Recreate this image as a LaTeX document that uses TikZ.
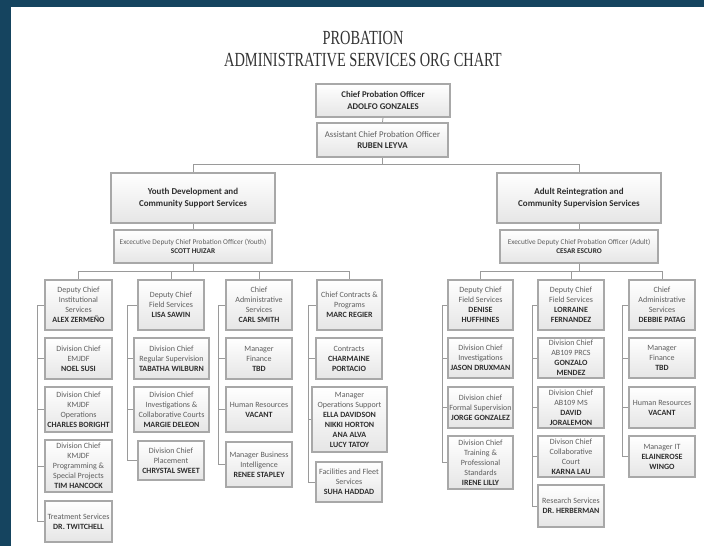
\documentclass[tikz,border=0pt]{standalone}
\usepackage{fontspec}
\setmainfont{Carlito}
\newfontfamily\titlefont[FakeStretch=0.72]{Liberation Serif}
\usetikzlibrary{shadows}
\definecolor{slate}{HTML}{15445F}
\definecolor{edge}{HTML}{A8A8A8}
\definecolor{txt}{HTML}{5E5E5E}
\definecolor{nmc}{HTML}{2E2E2E}
\definecolor{linec}{HTML}{9A9A9A}
\newcommand\pname[1]{\textbf{\color{nmc}#1}}
\newcommand\ob[7]{\node[#1, minimum width={#5-#3}, minimum height={#6-#4}] (#2) at ({(#3+#5)/2},{(#4+#6)/2}) {#7};}
\tikzset{
  basebox/.style={rectangle, inner sep=0.5pt, align=center, top color=white, bottom color=black!10,
    text=txt, font=\fontsize{8}{10}\selectfont},
  headbox/.style={basebox, draw=edge, line width=2.2pt,
    drop shadow={shadow xshift=1pt, shadow yshift=-1pt, opacity=0.25}},
  midbox/.style={basebox, draw=edge, line width=1.6pt, font=\fontsize{8.8}{11.5}\selectfont,
    drop shadow={shadow xshift=1.2pt, shadow yshift=-1.2pt, opacity=0.3}},
  divbox/.style={basebox, draw=edge, line width=1.1pt,
    drop shadow={shadow xshift=1.2pt, shadow yshift=-1.2pt, opacity=0.25}},
  execbox/.style={midbox, font=\fontsize{7.3}{9.6}\selectfont},
  bigbox/.style={headbox, line width=2.6pt, text=nmc, font=\bfseries\fontsize{9}{12}\selectfont},
  conn/.style={draw=linec, line width=0.8pt},
  ttl/.style={text=black!80, font=\titlefont\fontsize{20}{20}\selectfont, inner sep=0pt},
}
\begin{document}
\begin{tikzpicture}[x=1pt,y=-1pt]
\useasboundingbox (0,0) rectangle (704,546);
\fill[slate] (0,0) rectangle (704,546);
\fill[white] (11,7) rectangle (704,546);

% title
\node[ttl] (t1) at (363,38) {PROBATION};
\node[ttl] (t2) at (363,60) {ADMINISTRATIVE SERVICES ORG CHART};

% top
\ob{midbox}{chief}{316}{84}{450}{117}{\pname{Chief Probation Officer}\\\pname{ADOLFO GONZALES}}
\ob{midbox}{asst}{317}{123}{448}{157}{Assistant Chief Probation Officer\\\pname{RUBEN LEYVA}}
\ob{bigbox}{youth}{111}{173}{275}{223}{Youth Development and\\Community Support Services}
\ob{bigbox}{adult}{497}{173}{661}{223}{Adult Reintegration and\\Community Supervision Services}
\ob{execbox}{execY}{114}{230}{272}{263}{Excecutive Deputy Chief Probation Officer (Youth)\\\pname{SCOTT HUIZAR}}
\ob{execbox}{execA}{500}{230}{658}{263}{Executive Deputy Chief Probation Officer (Adult)\\\pname{CESAR ESCURO}}

% youth heads
\ob{headbox}{alex}{45}{280}{112}{330}{Deputy Chief\\Institutional\\Services\\\pname{ALEX ZERMEÑO}}
\ob{headbox}{lisa}{138}{280}{204}{330}{Deputy Chief\\Field Services\\\pname{LISA SAWIN}}
\ob{headbox}{carl}{226}{280}{292}{330}{Chief\\Administrative\\Services\\\pname{CARL SMITH}}
\ob{headbox}{marc}{317}{280}{382}{330}{Chief Contracts \&\\Programs\\\pname{MARC REGIER}}

% youth children
\ob{divbox}{noel}{45}{338}{112}{379}{Division Chief\\EMJDF\\\pname{NOEL SUSI}}
\ob{divbox}{charles}{45}{387}{112}{432}{Division Chief\\KMJDF\\Operations\\\pname{CHARLES BORIGHT}}
\ob{divbox}{tim}{45}{440}{112}{492}{Division Chief\\KMJDF\\Programming \&\\Special Projects\\\pname{TIM HANCOCK}}
\ob{divbox}{twitchell}{45}{501}{112}{542}{Treatment Services\\\pname{DR. TWITCHELL}}

\ob{divbox}{tabatha}{134}{338}{209}{379}{Division Chief\\Regular Supervision\\\pname{TABATHA WILBURN}}
\ob{divbox}{margie}{134}{387}{209}{432}{Division Chief\\Investigations \&\\Collaborative Courts\\\pname{MARGIE DELEON}}
\ob{divbox}{chrystal}{138}{441}{204}{480}{Division Chief\\Placement\\\pname{CHRYSTAL SWEET}}

\ob{divbox}{finY}{226}{338}{292}{379}{Manager\\Finance\\\pname{TBD}}
\ob{divbox}{hrY}{226}{387}{292}{432}{Human Resources\\\pname{VACANT}}
\ob{divbox}{renee}{226}{442}{292}{487}{Manager Business\\Intelligence\\\pname{RENEE STAPLEY}}

\ob{divbox}{contracts}{316}{338}{382}{379}{Contracts\\\pname{CHARMAINE}\\\pname{PORTACIO}}
\ob{divbox}{ops}{312}{387}{387}{452}{Manager\\Operations Support\\\pname{ELLA DAVIDSON}\\\pname{NIKKI HORTON}\\\pname{ANA ALVA}\\\pname{LUCY TATOY}}
\ob{divbox}{suha}{316}{462}{382}{502}{Facilities and Fleet\\Services\\\pname{SUHA HADDAD}}

% adult heads
\ob{headbox}{denise}{448}{280}{513}{330}{Deputy Chief\\Field Services\\\pname{DENISE}\\\pname{HUFFHINES}}
\ob{headbox}{lorraine}{538}{280}{604}{330}{Deputy Chief\\Field Services\\\pname{LORRAINE}\\\pname{FERNANDEZ}}
\ob{headbox}{debbie}{629}{280}{695}{330}{Chief\\Administrative\\Services\\\pname{DEBBIE PATAG}}

% adult children
\ob{divbox}{jason}{448}{338}{513}{378}{Division Chief\\Investigations\\\pname{JASON DRUXMAN}}
\ob{divbox}{jorge}{448}{387}{513}{428}{Division chief\\Formal Supervision\\\pname{JORGE GONZALEZ}}
\ob{divbox}{irene}{448}{436}{513}{489}{Division Chief\\Training \&\\Professional\\Standards\\\pname{IRENE LILLY}}

\ob{divbox}{gonzalo}{538}{338}{604}{378}{Division Chief\\AB109 PRCS\\\pname{GONZALO}\\\pname{MENDEZ}}
\ob{divbox}{david}{538}{387}{604}{428}{Division Chief\\AB109 MS\\\pname{DAVID}\\\pname{JORALEMON}}
\ob{divbox}{karna}{538}{436}{604}{477}{Divison Chief\\Collaborative\\Court\\\pname{KARNA LAU}}
\ob{divbox}{research}{538}{485}{604}{527}{Research Services\\\pname{DR. HERBERMAN}}

\ob{divbox}{finA}{629}{338}{695}{378}{Manager\\Finance\\\pname{TBD}}
\ob{divbox}{hrA}{629}{387}{695}{428}{Human Resources\\\pname{VACANT}}
\ob{divbox}{elaine}{629}{436}{695}{477}{Manager IT\\\pname{ELAINEROSE}\\\pname{WINGO}}

% connectors: top
\coordinate (hTop) at (0,164);
\coordinate (hLow) at (0,271);
\draw[conn] (chief.south) -- (asst.north);
\draw[conn] (asst.south) -- (asst.south |- hTop);
\draw[conn] (youth.north) -- (youth.north |- hTop) -- (adult.north |- hTop) -- (adult.north);
\draw[conn] (youth.south) -- (execY.north);
\draw[conn] (adult.south) -- (execA.north);
\draw[conn] (execY.south) -- (execY.south |- hLow);
\draw[conn] (execA.south) -- (execA.south |- hLow);
\draw[conn] (alex.north) -- (alex.north |- hLow) -- (marc.north |- hLow) -- (marc.north);
\draw[conn] (lisa.north) -- (lisa.north |- hLow);
\draw[conn] (carl.north) -- (carl.north |- hLow);
\draw[conn] (denise.north) -- (denise.north |- hLow) -- (debbie.north |- hLow) -- (debbie.north);
\draw[conn] (lorraine.north) -- (lorraine.north |- hLow);

% brackets
\coordinate (bA) at (37,0);
\coordinate (bB) at (127,0);
\coordinate (bC) at (218,0);
\coordinate (bD) at (308,0);
\coordinate (bE) at (442,0);
\coordinate (bF) at (532,0);
\coordinate (bG) at (622,0);
\draw[conn] (alex.west) -- (alex.west -| bA) -- (twitchell.west -| bA) -- (twitchell.west);
\foreach \n in {noel,charles,tim} \draw[conn] (\n.west) -- (\n.west -| bA);
\draw[conn] (lisa.west) -- (lisa.west -| bB) -- (chrystal.west -| bB) -- (chrystal.west);
\foreach \n in {tabatha,margie} \draw[conn] (\n.west) -- (\n.west -| bB);
\draw[conn] (carl.west) -- (carl.west -| bC) -- (renee.west -| bC) -- (renee.west);
\foreach \n in {finY,hrY} \draw[conn] (\n.west) -- (\n.west -| bC);
\draw[conn] (marc.west) -- (marc.west -| bD) -- (suha.west -| bD) -- (suha.west);
\foreach \n in {contracts,ops} \draw[conn] (\n.west) -- (\n.west -| bD);
\draw[conn] (denise.west) -- (denise.west -| bE) -- (irene.west -| bE) -- (irene.west);
\foreach \n in {jason,jorge} \draw[conn] (\n.west) -- (\n.west -| bE);
\draw[conn] (lorraine.west) -- (lorraine.west -| bF) -- (research.west -| bF) -- (research.west);
\foreach \n in {gonzalo,david,karna} \draw[conn] (\n.west) -- (\n.west -| bF);
\draw[conn] (debbie.west) -- (debbie.west -| bG) -- (elaine.west -| bG) -- (elaine.west);
\foreach \n in {finA,hrA} \draw[conn] (\n.west) -- (\n.west -| bG);
\end{tikzpicture}
\end{document}
